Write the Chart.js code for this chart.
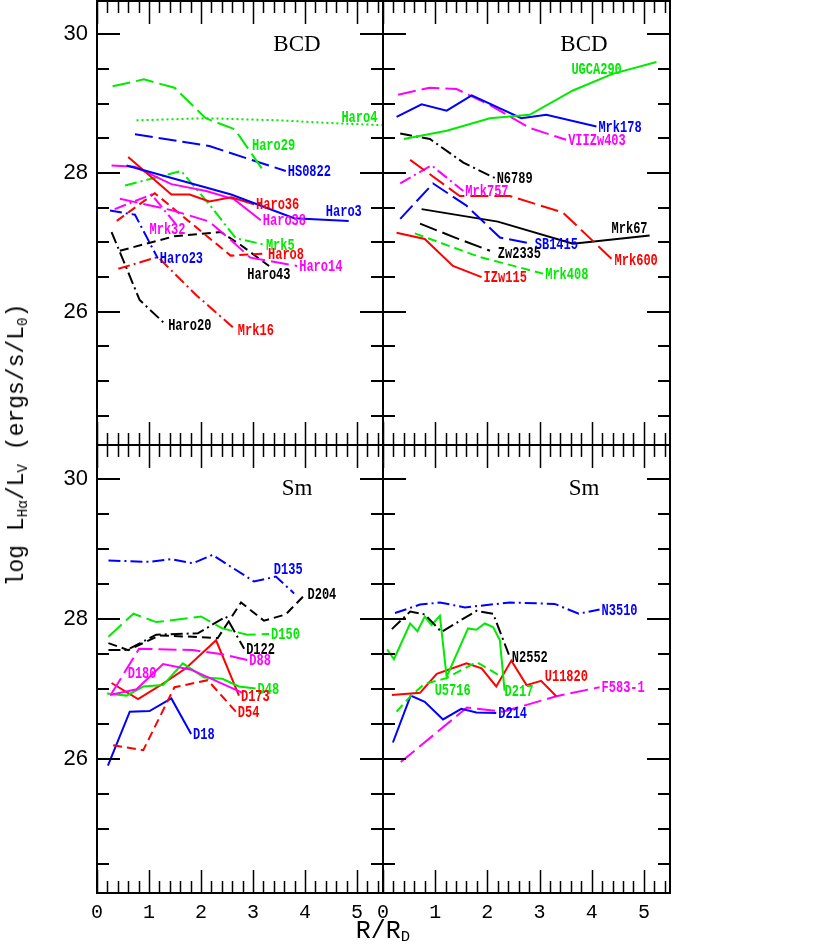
<!DOCTYPE html>
<html>
<head>
<meta charset="utf-8">
<title>log LHa/LV against R/RD</title>
<script src="https://cdn.jsdelivr.net/npm/chart.js@4.4.1/dist/chart.umd.min.js"></script>
<style>
    html, body { margin: 0; padding: 0; background: #fff; }
    #wrap { position: relative; width: 830px; height: 951px; overflow: hidden; }
    #wrap canvas { position: absolute; left: 0; top: 0; }
    .axisTitle { position: absolute; font-family: "Liberation Mono", monospace; color: #000; white-space: nowrap; }
    .axisTitle sub { font-size: 62%; vertical-align: -0.25em; line-height: 0; }
    #ytitle { left: 17px; top: 445px; font-size: 23px; transform: translate(-50%, -50%) rotate(-90deg); }
    #xtitle { left: 383px; top: 931px; font-size: 25px; transform: translate(-50%, -50%); }
</style>
</head>
<body>
<div id="wrap">
    <canvas id="bcdLeft" width="830" height="951"></canvas>
    <canvas id="bcdRight" width="830" height="951"></canvas>
    <canvas id="smLeft" width="830" height="951"></canvas>
    <canvas id="smRight" width="830" height="951"></canvas>
    <div id="ytitle" class="axisTitle">log L<sub>Hα</sub>/L<sub>V</sub> (ergs/s/L<sub>0</sub>)</div>
    <div id="xtitle" class="axisTitle">R/R<sub>D</sub></div>
</div>
<script>
"use strict";

// Axis ranges and tick steps
var xRange = [0, 5.5];
var yRange = [24.08, 30.48];
var xTickStep = 1;
var yTickStep = 2;

// BCD, left panel  [R/RD, log LHa/LV]
var haro29 = [[0.30, 29.25], [0.90, 29.35], [1.49, 29.23], [2.09, 28.79], [2.65, 28.63], [3.23, 28.00]];
var haro4 = [[0.76, 28.76], [2.10, 28.79], [3.50, 28.76], [4.50, 28.72], [5.50, 28.69]];
var hs0822 = [[0.73, 28.56], [2.16, 28.39], [3.05, 28.17], [3.63, 28.03]];
var haro3 = [[0.57, 28.11], [2.58, 27.69], [3.79, 27.35], [4.84, 27.31]];
var haro36 = [[0.60, 28.23], [1.43, 27.69], [1.78, 27.69], [2.16, 27.59], [2.58, 27.65], [3.02, 27.55]];
var haro38 = [[0.28, 28.11], [0.73, 28.09], [1.43, 27.84], [2.10, 27.74], [2.64, 27.62], [3.15, 27.32]];
var mrk5 = [[0.54, 27.82], [1.62, 28.03], [2.19, 27.52], [2.67, 27.06], [3.21, 26.97]];
var mrk32 = [[0.34, 27.48], [1.05, 27.69], [1.52, 27.26]];
var haro14 = [[0.44, 27.63], [1.46, 27.46], [2.16, 27.30], [2.55, 27.05], [2.95, 26.78], [3.85, 26.66]];
var haro8 = [[0.38, 27.31], [1.11, 27.71], [2.57, 26.81], [3.25, 26.84]];
var haro43 = [[0.44, 26.88], [1.49, 27.09], [2.38, 27.15], [2.77, 26.96], [3.31, 26.66]];
var haro20 = [[0.28, 27.15], [0.82, 26.17], [1.33, 25.81]];
var haro23 = [[0.25, 27.46], [0.73, 27.40], [1.17, 26.77]];
var mrk16 = [[0.41, 26.62], [1.17, 26.79], [1.91, 26.24], [2.67, 25.74]];

// BCD, right panel
var ugca290 = [[0.40, 28.49], [1.22, 28.61], [2.05, 28.79], [2.81, 28.84], [3.64, 29.19], [4.40, 29.43], [5.24, 29.60]];
var mrk178 = [[0.26, 28.81], [0.74, 28.99], [1.22, 28.90], [1.70, 29.12], [2.65, 28.79], [3.13, 28.84], [4.09, 28.67]];
var viizw403 = [[0.29, 29.13], [0.89, 29.23], [1.41, 29.21], [2.05, 28.98], [2.81, 28.65], [3.51, 28.48]];
var n6789 = [[0.33, 28.57], [0.90, 28.49], [1.54, 28.15], [2.14, 27.93]];
var mrk600 = [[0.52, 28.19], [1.47, 27.67], [2.43, 27.67], [3.45, 27.43], [4.40, 26.75]];
var mrk757 = [[0.33, 27.85], [0.93, 28.11], [1.54, 27.74]];
var sb1415 = [[0.33, 27.34], [0.96, 27.85], [1.60, 27.53], [2.24, 27.07], [2.87, 26.98]];
var mrk67 = [[0.74, 27.48], [2.20, 27.30], [3.64, 26.98], [5.11, 27.10]];
var zw2335 = [[0.71, 27.27], [1.38, 27.07], [2.05, 26.88]];
var izw115 = [[0.26, 27.14], [0.80, 27.05], [1.34, 26.66], [1.89, 26.50]];
var mrk408 = [[0.61, 27.13], [1.85, 26.79], [3.07, 26.55]];

// Sm, left panel
var d135 = [[0.22, 28.83], [1.01, 28.81], [1.43, 28.85], [1.84, 28.79], [2.22, 28.91], [3.02, 28.53], [3.44, 28.60], [3.79, 28.36]];
var d204 = [[0.22, 27.65], [0.60, 27.55], [1.20, 27.76], [1.84, 27.74], [2.32, 27.72], [2.77, 28.23], [3.21, 27.97], [3.63, 28.06], [4.01, 28.35]];
var d150 = [[0.22, 27.74], [0.70, 28.07], [1.14, 27.95], [2.00, 28.03], [2.41, 27.86], [2.89, 27.77], [3.31, 27.78]];
var d122 = [[0.22, 27.55], [0.57, 27.55], [1.14, 27.77], [1.94, 27.79], [2.48, 28.03], [2.83, 27.57]];
var d88 = [[0.28, 26.93], [0.81, 27.57], [1.84, 27.55], [2.41, 27.49], [2.89, 27.41]];
var d180 = [[0.25, 26.91], [0.76, 26.99], [1.27, 27.35], [1.81, 27.27], [2.80, 26.94]];
var d48 = [[0.19, 26.93], [0.57, 26.90], [0.89, 27.03], [1.27, 27.05], [1.65, 27.36], [2.06, 27.16], [2.41, 27.14], [2.73, 27.03], [3.05, 27.00]];
var d173 = [[0.28, 27.08], [0.79, 26.85], [1.27, 27.07], [1.71, 27.29], [2.29, 27.69], [2.73, 26.90]];
var d54 = [[0.31, 26.19], [0.89, 26.12], [1.49, 27.02], [2.13, 27.12], [2.67, 26.67]];
var d18 = [[0.21, 25.90], [0.63, 26.67], [1.01, 26.68], [1.43, 26.86], [1.81, 26.35]];

// Sm, right panel
var n3510 = [[0.23, 28.08], [0.71, 28.20], [1.09, 28.23], [1.57, 28.16], [2.43, 28.23], [3.29, 28.21], [3.75, 28.07], [4.15, 28.13]];
var n2552 = [[0.17, 27.85], [0.52, 28.10], [0.80, 28.06], [1.12, 27.81], [1.79, 28.11], [2.11, 28.07], [2.43, 27.45]];
var d217 = [[0.08, 27.56], [0.21, 27.42], [0.52, 27.93], [0.66, 27.82], [0.80, 28.03], [0.93, 27.91], [1.09, 28.04], [1.22, 27.17], [1.63, 27.86], [1.79, 27.84], [1.95, 27.93], [2.11, 27.88], [2.24, 27.69], [2.33, 26.97]];
var u5716 = [[0.26, 26.67], [0.55, 26.91], [0.80, 27.07], [1.22, 27.15], [1.79, 27.38], [2.27, 27.17]];
var u11820 = [[0.17, 26.91], [0.71, 26.94], [1.03, 27.21], [1.60, 27.36], [1.89, 27.29], [2.17, 27.03], [2.46, 27.40], [2.75, 27.05], [3.03, 27.11], [3.32, 26.89]];
var d214 = [[0.19, 26.23], [0.53, 26.90], [0.80, 26.81], [1.15, 26.56], [1.50, 26.71], [1.79, 26.66], [2.17, 26.65]];
var f5831 = [[0.34, 25.95], [1.61, 26.73], [2.30, 26.67], [3.32, 26.89], [4.15, 27.02]];

// Labels that do not sit at the end of their curve (data units)
var labelSpots = {
    "Haro4": [4.70, 28.80],
    "Haro29": [2.98, 28.39],
    "UGCA290": [3.61, 29.49],
    "Mrk32": [1.01, 27.18],
    "Haro3": [4.40, 27.44],
    "Haro43": [2.89, 26.53],
    "Mrk67": [4.38, 27.19],
    "Zw2335": [2.20, 26.84],
    "D135": [3.40, 28.69],
    "D180": [0.59, 27.21],
    "U11820": [3.10, 27.17],
    "U5716": [0.99, 26.96],
    "D217": [2.33, 26.95]
};

var colors = {
    green: "rgb(0, 235, 0)",
    blue: "rgb(0, 0, 255)",
    red: "rgb(255, 0, 0)",
    magenta: "rgb(255, 0, 255)",
    black: "rgb(0, 0, 0)"
};

var dashes = {
    solid: [],
    dot: [2, 3],
    dash: [9, 5],
    longDash: [18, 6],
    dashDot: [12, 4, 2, 4]
};

var panels = [
    {
        canvas: "bcdLeft", title: "BCD", showX: false, showY: true,
        padding: { left: 0, right: 447, top: 1, bottom: 506 },
        series: [
            ["Haro29", haro29, "green", "longDash"],
            ["Haro4", haro4, "green", "dot"],
            ["HS0822", hs0822, "blue", "longDash"],
            ["Haro3", haro3, "blue", "solid"],
            ["Haro36", haro36, "red", "solid"],
            ["Haro38", haro38, "magenta", "solid"],
            ["Mrk5", mrk5, "green", "dashDot"],
            ["Mrk32", mrk32, "magenta", "dashDot"],
            ["Haro14", haro14, "magenta", "longDash"],
            ["Haro8", haro8, "red", "dash"],
            ["Haro43", haro43, "black", "dash"],
            ["Haro20", haro20, "black", "dashDot"],
            ["Haro23", haro23, "blue", "dashDot"],
            ["Mrk16", mrk16, "red", "dashDot"]
        ]
    },
    {
        canvas: "bcdRight", title: "BCD", showX: false, showY: false,
        padding: { left: 383, right: 160, top: 1, bottom: 506 },
        series: [
            ["UGCA290", ugca290, "green", "solid"],
            ["Mrk178", mrk178, "blue", "solid"],
            ["VIIZw403", viizw403, "magenta", "longDash"],
            ["N6789", n6789, "black", "dashDot"],
            ["Mrk600", mrk600, "red", "longDash"],
            ["Mrk757", mrk757, "magenta", "dashDot"],
            ["SB1415", sb1415, "blue", "longDash"],
            ["Mrk67", mrk67, "black", "solid"],
            ["Zw2335", zw2335, "black", "longDash"],
            ["IZw115", izw115, "red", "solid"],
            ["Mrk408", mrk408, "green", "dash"]
        ]
    },
    {
        canvas: "smLeft", title: "Sm", showX: true, showY: true,
        padding: { left: 0, right: 447, top: 445, bottom: 0 },
        series: [
            ["D135", d135, "blue", "dashDot"],
            ["D204", d204, "black", "dash"],
            ["D150", d150, "green", "longDash"],
            ["D122", d122, "black", "dashDot"],
            ["D88", d88, "magenta", "longDash"],
            ["D180", d180, "magenta", "solid"],
            ["D48", d48, "green", "solid"],
            ["D173", d173, "red", "solid"],
            ["D54", d54, "red", "dash"],
            ["D18", d18, "blue", "solid"]
        ]
    },
    {
        canvas: "smRight", title: "Sm", showX: true, showY: false,
        padding: { left: 383, right: 160, top: 445, bottom: 0 },
        series: [
            ["N3510", n3510, "blue", "dashDot"],
            ["N2552", n2552, "black", "dashDot"],
            ["D217", d217, "green", "solid"],
            ["U5716", u5716, "green", "dash"],
            ["U11820", u11820, "red", "solid"],
            ["D214", d214, "blue", "solid"],
            ["F583-1", f5831, "magenta", "longDash"]
        ]
    }
];

// Inward ticks on all four sides plus the box
var frameTicks = {
    id: "frameTicks",
    afterDraw: function (chart) {
        var ctx = chart.ctx;
        var a = chart.chartArea;
        var xs = chart.scales.x;
        var ys = chart.scales.y;

        ctx.save();
        ctx.strokeStyle = "#000";

        // x ticks every 0.2, long on whole numbers
        ctx.lineWidth = 1.5;
        ctx.beginPath();
        for (let i = 0; i * 0.2 < xRange[1]; i++) {
            var px = Math.round(xs.getPixelForValue(i * 0.2)) + 0.5;
            var len = (i % 5 === 0) ? 23 : 12;
            ctx.moveTo(px, a.top);
            ctx.lineTo(px, a.top + len);
            ctx.moveTo(px, a.bottom);
            ctx.lineTo(px, a.bottom - len);
        }
        ctx.stroke();

        // y ticks every 0.5, long on every second unit
        ctx.lineWidth = 2;
        ctx.beginPath();
        for (let v = 24.5; v < yRange[1]; v += 0.5) {
            var py = Math.round(ys.getPixelForValue(v));
            var ylen = (v % 2 === 0) ? 23 : 12;
            ctx.moveTo(a.left, py);
            ctx.lineTo(a.left + ylen, py);
            ctx.moveTo(a.right, py);
            ctx.lineTo(a.right - ylen, py);
        }
        ctx.stroke();

        ctx.lineWidth = 2;
        ctx.strokeRect(a.left, a.top, a.right - a.left, a.bottom - a.top);
        ctx.restore();
    }
};

// Panel title and the name at each curve
var curveNames = {
    id: "curveNames",
    afterDatasetsDraw: function (chart, args, opts) {
        var ctx = chart.ctx;
        var a = chart.chartArea;
        var xs = chart.scales.x;
        var ys = chart.scales.y;

        ctx.save();
        ctx.fillStyle = "#000";
        ctx.font = "23px 'Liberation Serif', serif";
        ctx.textAlign = "center";
        ctx.textBaseline = "middle";
        ctx.fillText(opts.title, a.right - 86, a.top + 44);

        ctx.font = "bold 16px 'Liberation Mono', monospace";
        ctx.textAlign = "left";
        chart.data.datasets.forEach(function (ds, i) {
            var meta = chart.getDatasetMeta(i);
            var last = meta.data[meta.data.length - 1];
            var spot = labelSpots[ds.label];
            var px = spot ? xs.getPixelForValue(spot[0]) : last.x + 2;
            var py = spot ? ys.getPixelForValue(spot[1]) : last.y + 1;

            ctx.save();
            ctx.fillStyle = ds.borderColor;
            ctx.translate(px, py);
            ctx.scale(0.75, 1);
            ctx.fillText(ds.label, 0, 0);
            ctx.restore();
        });
        ctx.restore();
    }
};

function zeroPadding(scale) {
    scale.paddingTop = 0;
    scale.paddingBottom = 0;
    scale.paddingLeft = 0;
    scale.paddingRight = 0;
}

function createPanel(panel) {

    var config = {
        type: "line",
        data: {
            datasets: []
        },
        options: {
            responsive: false,
            animation: false,
            events: [],
            layout: {
                padding: panel.padding
            },
            plugins: {
                legend: { display: false },
                tooltip: { enabled: false },
                curveNames: { title: panel.title }
            },
            scales: {
                x: {
                    type: "linear",
                    min: xRange[0],
                    max: xRange[1],
                    display: panel.showX,
                    grid: { display: false, drawTicks: false },
                    border: { display: false },
                    ticks: {
                        stepSize: xTickStep,
                        includeBounds: false,
                        maxRotation: 0,
                        color: "#000",
                        padding: 8,
                        font: { family: "'Liberation Mono', monospace", size: 20 }
                    },
                    afterFit: function (scale) {
                        zeroPadding(scale);
                        if (panel.showX) {
                            scale.height = 58;
                        }
                    }
                },
                y: {
                    type: "linear",
                    min: yRange[0],
                    max: yRange[1],
                    display: panel.showY,
                    grid: { display: false, drawTicks: false },
                    border: { display: false },
                    ticks: {
                        stepSize: yTickStep,
                        includeBounds: false,
                        color: "#000",
                        padding: 9,
                        font: { family: "'Liberation Sans', sans-serif", size: 22 }
                    },
                    afterFit: function (scale) {
                        zeroPadding(scale);
                        if (panel.showY) {
                            scale.width = 97;
                        }
                    }
                }
            }
        },
        plugins: [frameTicks, curveNames]
    };

    for (let i = 0; i < panel.series.length; i++) {
        var s = panel.series[i];

        // One line per galaxy
        config.data.datasets.push({
            label: s[0],
            data: s[1].map(function (p) { return { x: p[0], y: p[1] }; }),
            borderColor: colors[s[2]],
            borderDash: dashes[s[3]],
            borderWidth: 2,
            pointRadius: 0,
            tension: 0,
            fill: false
        });
    }

    var ctx = document.getElementById(panel.canvas).getContext("2d");
    return new Chart(ctx, config);
}

window.onload = function () {
    panels.forEach(createPanel);
};
</script>
</body>
</html>
